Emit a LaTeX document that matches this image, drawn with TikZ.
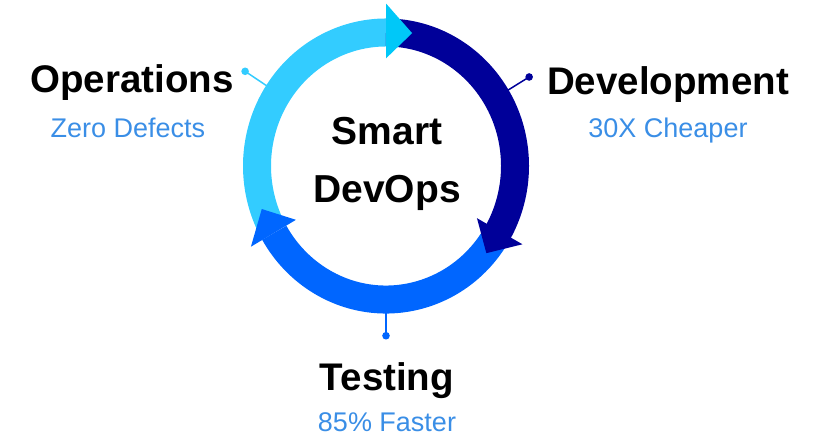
\documentclass[tikz,border=0pt]{standalone}
\usepackage{fontspec}
\setmainfont{Liberation Sans}
\usetikzlibrary{calc}
\definecolor{opc}{HTML}{33CCFF}
\definecolor{oph}{HTML}{00C8F8}
\definecolor{devc}{HTML}{000099}
\definecolor{tstc}{HTML}{0066FF}
\definecolor{subc}{HTML}{3A8EE6}
\tikzset{
  title/.style={anchor=base, inner sep=0pt, font=\fontsize{38.5}{46}\selectfont\bfseries, text=black},
  sub/.style={anchor=base, inner sep=0pt, font=\fontsize{27}{32}\selectfont, text=subc},
  center/.style={anchor=base, inner sep=0pt, font=\fontsize{39}{46}\selectfont\bfseries, text=black},
  ring/.style={line width=28pt},
  conn/.style={line width=1.5pt},
}
\begin{document}
\begin{tikzpicture}[x=1pt,y=1pt]
\useasboundingbox (0,0) rectangle (818,437);
\coordinate (c) at (386,271);
\begin{scope}[shift={(386,271)}, yscale=1.035]
% ring arcs
\draw[ring, opc]  (205:129) arc[start angle=205, end angle=90, radius=129];
\draw[ring, devc] (90:129) arc[start angle=90, end angle=-30, radius=129];
\draw[ring, tstc] (-30:129) arc[start angle=-30, end angle=-150, radius=129];
% arrowheads
\fill[oph]  (90:104) -- (90:157) -- (78.5:131) -- cycle;
\fill[devc] (-29:104) -- (-29:156) -- (-40:131) -- cycle;
\fill[tstc] (210:104) -- (210:156) -- (198.5:131) -- cycle;
% connector coordinates
\coordinate (opA) at (147:142);
\coordinate (opD) at (147:168);
\coordinate (devA) at (31:142);
\coordinate (devD) at (31:167);
\coordinate (tstA) at (-90:142);
\coordinate (tstD) at (-90:164);
\end{scope}
\draw[conn, opc] (opA) -- (opD);
\fill[opc] (opD) circle (3.8);
\draw[conn, devc] (devA) -- (devD);
\fill[devc] (devD) circle (3.8);
\draw[conn, tstc] (tstA) -- (tstD);
\fill[tstc] (tstD) circle (3.8);
% texts
\node[center] (smart) at (387,292) {Smart};
\node[center] (devops) at (387,235) {DevOps};
\node[title] (ops) at (132,344) {Operations};
\node[sub] (opsS) at (128,299) {Zero Defects};
\node[title] (dev) at (668,342) {Development};
\node[sub] (devS) at (668,299) {30X Cheaper};
\node[title] (tst) at (387,47) {Testing};
\node[sub] (tstS) at (387,6) {85\% Faster};
\end{tikzpicture}
\end{document}
